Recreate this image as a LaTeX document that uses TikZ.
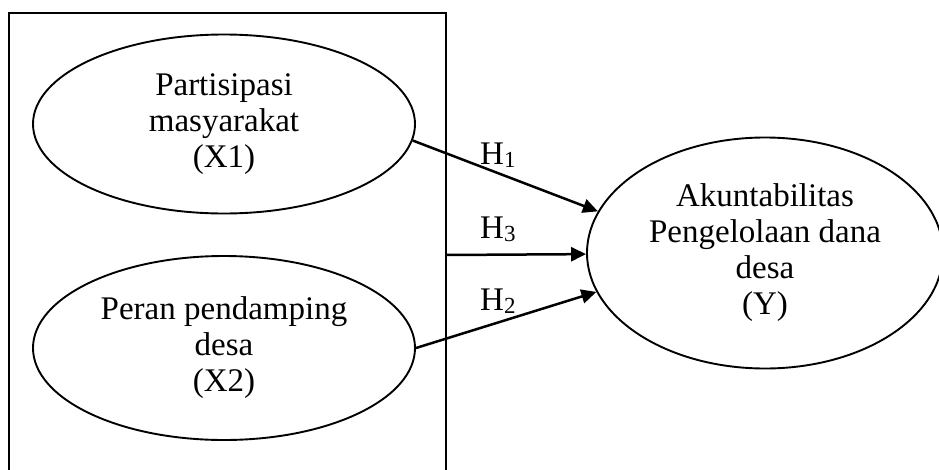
\documentclass[tikz,border=0pt]{standalone}
\usepackage{fontspec}
\setmainfont{Liberation Serif}
\usetikzlibrary{shapes.geometric}
\usetikzlibrary{arrows.meta}

\newcommand{\hsub}[1]{\raisebox{-3pt}{\fontsize{23}{23}\selectfont #1}}

\begin{document}
\begin{tikzpicture}[x=1pt,y=-1pt,>={Triangle[length=15pt,width=14pt]},
		every node/.style={font=\fontsize{33}{36}\selectfont},
		var node/.style={ellipse,draw,line width=1.9pt,inner sep=0pt,align=center},
		link/.style={->,line width=2.5pt}]
	
	\useasboundingbox (0,0) rectangle (939,469);
	
	% frame round X1 and X2, open at the bottom
	\coordinate (fbl) at (9,480);
	\coordinate (ftl) at (9,13);
	\coordinate (ftr) at (446,13);
	\coordinate (fbr) at (446,480);
	\coordinate (fh3) at (446,255);
	\draw[line width=1.9pt] (fbl) -- (ftl) -- (ftr) -- (fbr);
	
	\node[var node, minimum width=382pt, minimum height=179pt] (x1) at (224,124) {Partisipasi\\masyarakat\\(X1)};
	\node[var node, minimum width=382pt, minimum height=184pt] (x2) at (224,348) {Peran pendamping\\desa\\(X2)};
	\node[var node, minimum width=356pt, minimum height=231pt] (y) at (765,253) {Akuntabilitas\\Pengelolaan dana\\desa\\(Y)};
	
	\draw[link] (x1.-5) -- (y.166);
	\draw[link] (fh3) -- (y);
	\draw[link] (x2.east) -- (y.193);
	
	\node[anchor=base west, inner sep=0pt] (h1) at (480,164) {H\hsub{1}};
	\node[anchor=base west, inner sep=0pt] (h3) at (480,238) {H\hsub{3}};
	\node[anchor=base west, inner sep=0pt] (h2) at (480,310) {H\hsub{2}};
\end{tikzpicture}
\end{document}
